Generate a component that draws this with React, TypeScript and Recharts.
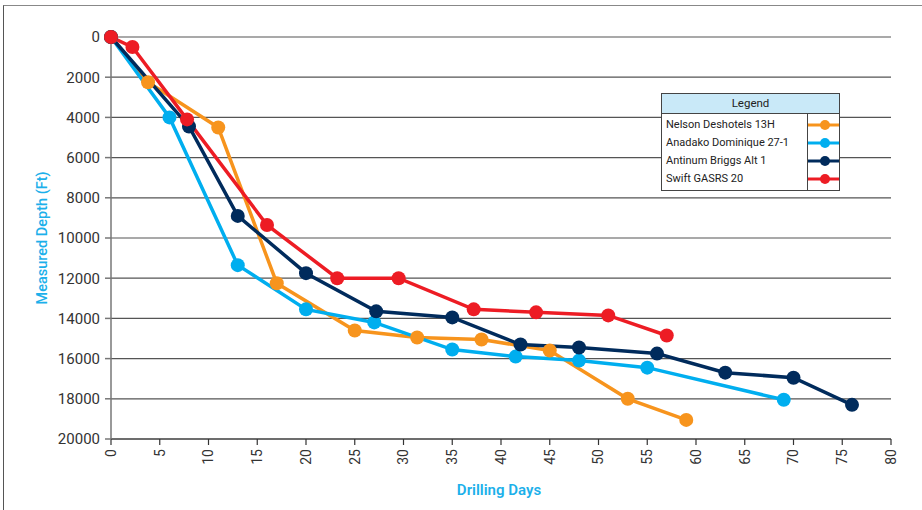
import React from 'react';
import { LineChart, Line, XAxis, YAxis, CartesianGrid, Label } from 'recharts';

const seriesNames = ['Nelson Deshotels 13H', 'Anadako Dominique 27-1', 'Antinum Briggs Alt 1', 'Swift GASRS 20'];
const seriesColors = ['#f7941d', '#00aeef', '#002b5c', '#ed1c24'];

const orangeDays = [0, 3.8, 11, 17, 25, 31.4, 38, 45, 53, 59];
const orangeDepth = [0, 2250, 4500, 12250, 14600, 14950, 15050, 15600, 18000, 19050];
const blueDays = [0, 6, 13, 20, 27, 35, 41.5, 48, 55, 69];
const blueDepth = [0, 4000, 11350, 13550, 14200, 15550, 15900, 16100, 16450, 18050];
const navyDays = [0, 8, 13, 20, 27.2, 35, 42, 48, 56, 63, 70, 76];
const navyDepth = [0, 4450, 8900, 11750, 13650, 13950, 15300, 15450, 15750, 16700, 16950, 18300];
const redDays = [0, 2.2, 7.8, 16, 23.2, 29.5, 37.2, 43.6, 51, 57];
const redDepth = [0, 500, 4100, 9350, 12000, 12000, 13550, 13700, 13850, 14850];

const xTicks = [0, 5, 10, 15, 20, 25, 30, 35, 40, 45, 50, 55, 60, 65, 70, 75, 80];
const yTicks = [0, 2000, 4000, 6000, 8000, 10000, 12000, 14000, 16000, 18000, 20000];

const build = (days: number[], depth: number[]) => days.map((d, i) => ({ day: d, depth: depth[i] }));
const seriesData = [
  build(orangeDays, orangeDepth),
  build(blueDays, blueDepth),
  build(navyDays, navyDepth),
  build(redDays, redDepth),
];

const FONT = 'Roboto, "DejaVu Sans", sans-serif';
const LABEL_BLUE = '#1cb0ea';

const XTick = (props: any) => {
  const { x, y, payload } = props;
  return (
    <text x={x} y={y} transform={`rotate(-90, ${x}, ${y})`} textAnchor="end" dy="0.35em"
      fill="#333" fontSize={14} fontFamily={FONT}>
      {payload.value}
    </text>
  );
};

const YTick = (props: any) => {
  const { x, y, payload } = props;
  return (
    <text x={x} y={y} textAnchor="end" dy="0.36em" fill="#333" fontSize={15} fontFamily={FONT}>
      {payload.value}
    </text>
  );
};

const LegendBox = () => (
  <div style={{
    position: 'absolute', left: 661, top: 93, width: 179, border: '1px solid #444',
    background: '#fff', fontFamily: FONT, fontSize: 11, color: '#222', boxSizing: 'border-box',
  }}>
    <div style={{ background: '#c9e9f8', height: 19, lineHeight: '19px', textAlign: 'center', borderBottom: '1px solid #444', fontSize: 11.5 }}>Legend</div>
    <div style={{ display: 'flex' }}>
      <div style={{ width: 147, borderRight: '1px solid #444', padding: '2px 0 2px 4px', boxSizing: 'border-box' }}>
        {seriesNames.map((n) => (
          <div key={n} style={{ height: 18, lineHeight: '18px', whiteSpace: 'nowrap' }}>{n}</div>
        ))}
      </div>
      <div style={{ flex: 1, padding: '2px 0' }}>
        {seriesColors.map((c) => (
          <div key={c} style={{ height: 18, position: 'relative' }}>
            <svg width={31} height={18} style={{ display: 'block' }}>
              <line x1={0} y1={9} x2={31} y2={9} stroke={c} strokeWidth={3} />
              <circle cx={17} cy={9} r={5} fill={c} />
            </svg>
          </div>
        ))}
      </div>
    </div>
  </div>
);

export default function App() {
  return (
    <div style={{ position: 'absolute', left: 0, top: 0, width: 922, height: 510, background: '#fff' }}>
      <div style={{ position: 'absolute', left: 3, top: 5, width: 919, height: 505, borderLeft: '1.5px solid #555', borderTop: '1.5px solid #888' }} />
      <LineChart width={922} height={510} margin={{ top: 37, right: 31, bottom: 0, left: 0 }}>
        <CartesianGrid horizontal vertical={false} stroke="#555" strokeWidth={1.2} />
        <XAxis dataKey="day" type="number" domain={[0, 80]} ticks={xTicks} interval={0}
          allowDuplicatedCategory={false}
          tick={<XTick />} tickSize={6} tickMargin={4}
          stroke="#333" strokeWidth={1.2} height={71}>
          <Label value="Drilling Days" position="insideBottom" offset={15} dx={-2}
            style={{ fill: LABEL_BLUE, fontSize: 15, fontWeight: 600, fontFamily: FONT }} />
        </XAxis>
        <YAxis type="number" reversed domain={[0, 20000]} ticks={yTicks} interval={0}
          tick={<YTick />} tickSize={6} tickMargin={5} width={111}
          stroke="#777" strokeWidth={1.5}>
          <Label value="Measured Depth (Ft)" angle={-90} position="insideLeft" offset={42}
            style={{ fill: LABEL_BLUE, fontSize: 14.5, fontWeight: 500, fontFamily: FONT, textAnchor: 'middle' }} />
        </YAxis>
        {seriesData.map((d, i) => (
          <Line key={seriesNames[i]} data={d} dataKey="depth" name={seriesNames[i]}
            type="linear" stroke={seriesColors[i]} strokeWidth={3.5}
            dot={{ r: 7, fill: seriesColors[i], stroke: seriesColors[i], strokeWidth: 0 }}
            activeDot={false} isAnimationActive={false} />
        ))}
      </LineChart>
      <LegendBox />
    </div>
  );
}
